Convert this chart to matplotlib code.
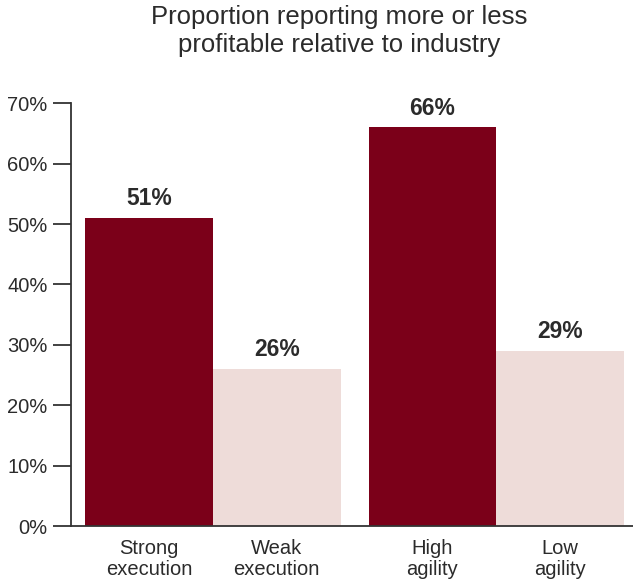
import matplotlib
matplotlib.use("Agg")
import matplotlib.pyplot as plt
from matplotlib.ticker import FuncFormatter

plt.rcParams["font.family"] = ["Liberation Sans", "DejaVu Sans"]

categories = ["Strong\nexecution", "Weak\nexecution", "High\nagility", "Low\nagility"]
values = [51, 26, 66, 29]
positions = [0.5, 1.5, 2.72, 3.72]
colors = ["#7b0019", "#eedcd9", "#7b0019", "#eedcd9"]
yticks = [0, 10, 20, 30, 40, 50, 60, 70]

text_col = "#2b2b2b"

fig = plt.figure(figsize=(6.33, 5.86), dpi=100)
ax = fig.add_axes([71 / 633, 60 / 586, 1 - 71 / 633, (526 - 103.3) / 586])

ax.bar(positions, values, width=1.0, color=colors, zorder=2)
for x, v in zip(positions, values):
    ax.text(x, v + 1.3, f"{v}%", ha="center", va="bottom",
            fontsize=16.5, fontweight="bold", color=text_col)

ax.set_xlim(-0.11, 4.29)
ax.set_ylim(0, 70)
ax.set_yticks(yticks)
ax.yaxis.set_major_formatter(FuncFormatter(lambda v, p: f"{int(v)}%"))
ax.set_xticks(positions)
ax.set_xticklabels(categories)

for s in ["top", "right"]:
    ax.spines[s].set_visible(False)
for s in ["left", "bottom"]:
    ax.spines[s].set_color("#333333")
    ax.spines[s].set_linewidth(1.3)

ax.tick_params(axis="y", length=13, width=1.3, color="#333333",
               labelsize=14.5, labelcolor=text_col, pad=4)
ax.tick_params(axis="x", length=0, labelsize=14.5, labelcolor=text_col, pad=9)
for lbl in ax.get_xticklabels():
    lbl.set_linespacing(1.15)

fig.text(339 / 633, 1 - 31 / 586,
         "Proportion reporting more or less\nprofitable relative to industry",
         ha="center", va="center", fontsize=18.5, color=text_col, linespacing=1.2)

fig.savefig("out.png", dpi=100)
